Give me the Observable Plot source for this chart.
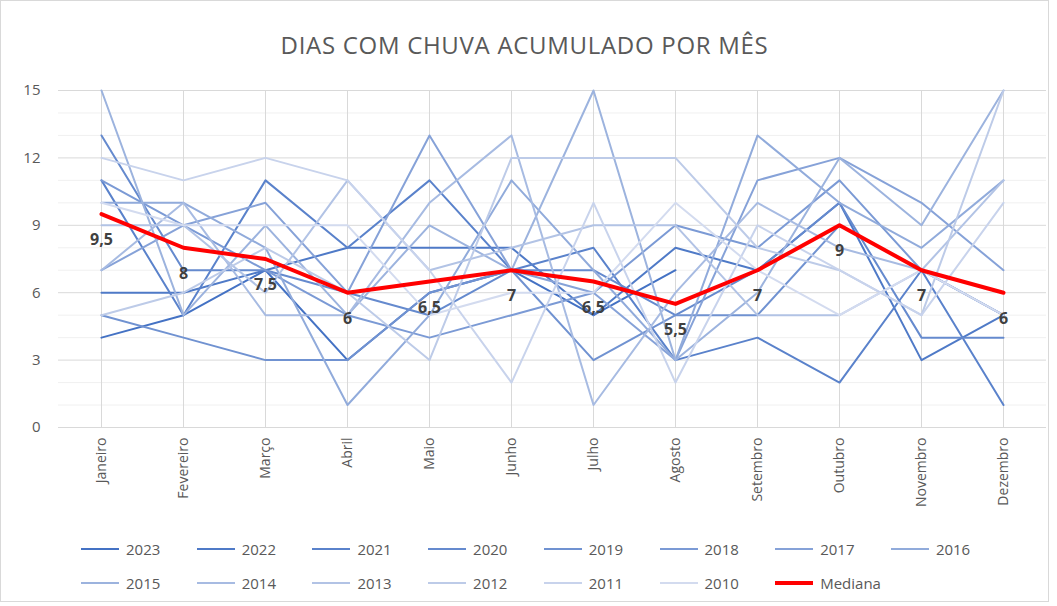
<!DOCTYPE html>
<html>
<head>
<meta charset="utf-8">
<script src="https://cdn.jsdelivr.net/npm/d3@7"></script>
<script src="https://cdn.jsdelivr.net/npm/@observablehq/plot@0.6"></script>
<style>
  html, body { margin: 0; padding: 0; background: #fff; }
  #wrap { position: relative; width: 1049px; height: 602px; border: 1px solid #D9D9D9; box-sizing: border-box; overflow: hidden; font-family: "Open Sans", sans-serif; }
  #title { position: absolute; left: 0; right: 0; top: 27px; text-align: center; font-size: 24px; color: #595959; letter-spacing: 0.7px; }
  #chart { position: absolute; left: -1px; top: 69px; width: 1057px; }
  #chart svg { max-width: none !important; }
  .lg { position: absolute; display: flex; align-items: center; font-size: 15px; color: #595959; }
  .lg .sw { width: 38px; margin-right: 7px; }
</style>
</head>
<body>
<div id="wrap">
  <div id="title">DIAS COM CHUVA ACUMULADO POR MÊS</div>
  <div id="chart"></div>
  <div id="legend"></div>
</div>
<script>
const months = ["Janeiro","Fevereiro","Março","Abril","Maio","Junho","Julho","Agosto","Setembro","Outubro","Novembro","Dezembro"];
const years = [2023,2022,2021,2020,2019,2018,2017,2016,2015,2014,2013,2012,2011,2010];
const yTicks = [0,3,6,9,12,15];

const v2023 = [4,5,7,3,6,7,5,7,null,null,null,null];
const v2022 = [6,6,7,8,8,8,5,8,7,10,3,5];
const v2021 = [11,5,11,8,11,7,8,3,4,2,7,1];
const v2020 = [13,7,7,6,5,7,7,5,7,10,4,4];
const v2019 = [5,4,3,3,6,7,3,5,5,9,7,5];
const v2018 = [11,9,7,5,4,5,6,9,8,11,7,5];
const v2017 = [7,9,10,6,13,7,6,3,11,12,10,7];
const v2016 = [10,10,8,1,5,11,7,3,13,10,8,11];
const v2015 = [15,5,9,5,9,7,15,3,6,12,9,15];
const v2014 = [7,10,5,5,10,13,1,6,10,8,7,6];
const v2013 = [9,9,6,11,7,8,9,9,5,5,7,11];
const v2012 = [5,6,8,6,3,12,12,12,8,7,5,15];
const v2011 = [12,11,12,11,7,2,10,2,9,7,5,10];
const v2010 = [10,9,9,9,5,6,6,10,7,5,7,5];
const mediana = [9.5,8,7.5,6,6.5,7,6.5,5.5,7,9,7,6];

const seriesValues = [v2023,v2022,v2021,v2020,v2019,v2018,v2017,v2016,v2015,v2014,v2013,v2012,v2011,v2010];

const colorFor = i => d3.interpolateRgb("#4472C4", "#D3DBEF")(i / (years.length - 1));

const rows = seriesValues.map((vals, i) =>
  vals.map((v, j) => ({year: years[i], month: months[j], value: v})).filter(d => d.value != null)
);
const medRows = mediana.map((v, j) => ({month: months[j], value: v}));

const fmt = v => String(v).replace(".", ",");

const chart = Plot.plot({
  width: 1057,
  height: 450,
  marginLeft: 58,
  marginRight: 11,
  marginTop: 20,
  marginBottom: 93,
  style: {fontFamily: "'Open Sans', sans-serif", color: "#595959", background: "transparent"},
  x: {type: "point", domain: months, padding: 0.5, label: null},
  y: {domain: [0, 15], label: null},
  marks: [
    Plot.ruleY(d3.range(0, 16).filter(t => t % 3 !== 0), {stroke: "#F0F0F0"}),
    Plot.ruleX(months, {stroke: "#D9D9D9"}),
    Plot.ruleY(yTicks, {stroke: "#D9D9D9"}),
    Plot.axisY({ticks: yTicks, tickSize: 0, tickPadding: 18, fontSize: 15}),
    Plot.axisX({tickRotate: -90, tickSize: 0, tickPadding: 10, fontSize: 14}),
    ...rows.map((r, i) => Plot.line(r, {x: "month", y: "value", stroke: colorFor(i), strokeWidth: 2})),
    Plot.line(medRows, {x: "month", y: "value", stroke: "#FF0000", strokeWidth: 4}),
    Plot.text(medRows, {x: "month", y: "value", text: d => fmt(d.value), dy: 26, fontSize: 16, fontWeight: "bold", fill: "#404040"})
  ]
});
document.getElementById("chart").appendChild(chart);

// legend
const legend = document.getElementById("legend");
const items = years.map((y, i) => ({label: String(y), color: colorFor(i), w: 2}));
items.push({label: "Mediana", color: "#FF0000", w: 4});
items.forEach((it, k) => {
  const row = Math.floor(k / 8), col = k % 8;
  const el = document.createElement("div");
  el.className = "lg";
  el.style.left = (80 + col * 115.7) + "px";
  el.style.top = (row === 0 ? 538 : 572) + "px";
  el.style.height = "20px";
  const sw = document.createElement("div");
  sw.className = "sw";
  sw.style.height = it.w + "px";
  sw.style.background = it.color;
  const tx = document.createElement("span");
  tx.textContent = it.label;
  el.appendChild(sw); el.appendChild(tx);
  legend.appendChild(el);
});
</script>
</body>
</html>
